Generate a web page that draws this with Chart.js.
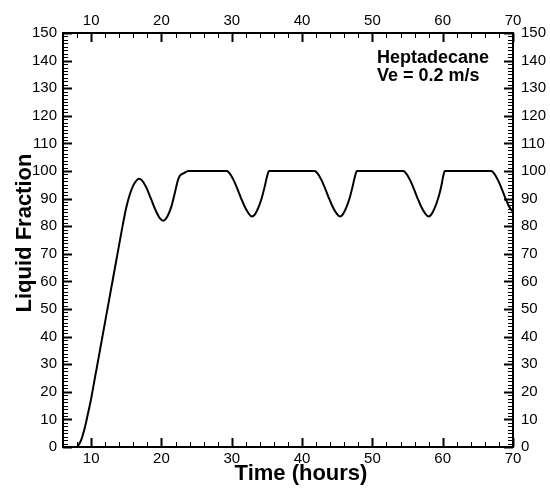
<!DOCTYPE html>
<html>
<head>
<meta charset="utf-8">
<script src="https://cdn.jsdelivr.net/npm/chart.js@4/dist/chart.umd.min.js"></script>
<style>
  body { margin: 0; background: #fff; }
  #wrap { width: 550px; height: 488px; }
</style>
</head>
<body>
<div id="wrap"><canvas id="lf_canvas" width="550" height="488"></canvas></div>
<script>
// values
const timeHours = [
  8.0, 8.5, 9.0, 9.5, 10.0, 10.5, 11.0, 11.5, 12.0, 12.5, 13.0, 13.5, 14.0, 14.5, 15.0, 15.5, 16.0, 16.5, 16.8,
  17.2, 17.8, 18.5, 19.2, 19.8, 20.3, 20.8, 21.4, 21.9, 22.3, 22.6, 23.2, 23.8,
  29.3, 29.8, 30.3, 30.8, 31.3, 31.8, 32.3, 32.85, 33.3, 33.8, 34.3, 34.7, 35.0, 35.3,
  41.8, 42.3, 42.8, 43.3, 43.8, 44.3, 44.8, 45.4, 45.8, 46.3, 46.8, 47.2, 47.5, 47.8,
  54.4, 54.9, 55.4, 55.9, 56.4, 56.9, 57.4, 58.0, 58.4, 58.9, 59.4, 59.8, 60.05, 60.3,
  66.9, 67.4, 67.9, 68.4, 68.9, 69.4, 70.0
];
const liquidFraction = [
  0, 2, 6, 11.5, 17.5, 24.5, 31.5, 38.5, 45.5, 52.5, 59.5, 66.5, 73.5, 80.5, 86.8, 91.5, 94.8, 96.7, 97.2,
  96.7, 94.3, 90, 85.6, 82.8, 82, 83.3, 87, 92, 96.3, 98.2, 99.2, 100,
  100, 98.8, 96.5, 93.5, 90.3, 87.3, 85, 83.5, 84.3, 86.8, 90.5, 94.5, 97.8, 100,
  100, 98.8, 96.5, 93.5, 90.3, 87.3, 85, 83.5, 84.3, 86.8, 90.5, 94.5, 97.8, 100,
  100, 98.8, 96.5, 93.5, 90.3, 87.3, 85, 83.5, 84.3, 86.8, 90.5, 94.5, 97.8, 100,
  100, 98.8, 96.5, 93.5, 90.3, 87.3, 85.2
];
const xTickLabels = [10, 20, 30, 40, 50, 60, 70];
const yTickLabels = [0, 10, 20, 30, 40, 50, 60, 70, 80, 90, 100, 110, 120, 130, 140, 150];
const noteLines = ["Heptadecane", "Ve = 0.2 m/s"];

const X_MIN = 6, X_MAX = 70, Y_MIN = 0, Y_MAX = 150;
const X_MINOR = 2, Y_MINOR = 1.25;
const tickFont = { family: "'Liberation Sans', Arial, sans-serif", size: 15 };

const points = timeHours.map((t, i) => ({ x: t, y: liquidFraction[i] }));

function setTicks(list) {
  return scale => { scale.ticks = list.map(v => ({ value: v })); };
}

// frame, inward ticks, axis titles and the note
const framePlugin = {
  id: "frame",
  afterDraw(chart) {
    const ctx = chart.ctx;
    const a = chart.chartArea;
    const xs = chart.scales.x, ys = chart.scales.y;
    ctx.save();
    ctx.strokeStyle = "#000";
    ctx.lineWidth = 2;
    ctx.strokeRect(a.left, a.top, a.right - a.left, a.bottom - a.top);

    for (let v = 8; v <= X_MAX; v += X_MINOR) {
      const px = Math.round(xs.getPixelForValue(v)) + 0.5;
      const major = v % 10 === 0;
      const len = major ? 9 : 5;
      ctx.lineWidth = major ? 2 : 1;
      ctx.beginPath();
      ctx.moveTo(px, a.bottom); ctx.lineTo(px, a.bottom - len);
      ctx.moveTo(px, a.top); ctx.lineTo(px, a.top + len);
      ctx.stroke();
    }
    for (let i = 0; i * Y_MINOR <= Y_MAX; i++) {
      const v = i * Y_MINOR;
      const py = Math.round(ys.getPixelForValue(v)) + 0.5;
      const major = i % 8 === 0;
      const len = major ? 9 : 5;
      ctx.lineWidth = major ? 2 : 1;
      ctx.beginPath();
      ctx.moveTo(a.left, py); ctx.lineTo(a.left + len, py);
      ctx.moveTo(a.right, py); ctx.lineTo(a.right - len, py);
      ctx.stroke();
    }

    ctx.fillStyle = "#000";
    ctx.font = "bold 22px 'Liberation Sans', Arial, sans-serif";
    ctx.textAlign = "center";
    ctx.textBaseline = "alphabetic";
    ctx.fillText("Time (hours)", 301, 480);

    ctx.save();
    ctx.translate(31, 233);
    ctx.rotate(-Math.PI / 2);
    ctx.fillText("Liquid Fraction", 0, 0);
    ctx.restore();

    ctx.font = "bold 18px 'Liberation Sans', Arial, sans-serif";
    ctx.textAlign = "left";
    ctx.fillText(noteLines[0], 377, 63);
    ctx.fillText(noteLines[1], 377, 81);
    ctx.restore();
  }
};

const axisBase = {
  type: "linear",
  grid: { display: false, drawTicks: false },
  border: { display: false },
  ticks: { color: "#000", font: tickFont }
};

new Chart(document.getElementById("lf_canvas"), {
  type: "line",
  data: {
    datasets: [{
      data: points,
      borderColor: "#000",
      borderWidth: 2,
      pointRadius: 0,
      cubicInterpolationMode: "monotone",
      fill: false
    }]
  },
  options: {
    responsive: false,
    animation: false,
    layout: { padding: 0 },
    plugins: { legend: { display: false }, tooltip: { enabled: false } },
    scales: {
      x: { ...axisBase, position: "bottom", min: X_MIN, max: X_MAX,
           ticks: { ...axisBase.ticks, padding: 3, maxRotation: 0 },
           afterBuildTicks: setTicks(xTickLabels),
           afterFit: s => { s.height = 41; } },
      x2: { ...axisBase, position: "top", min: X_MIN, max: X_MAX,
            ticks: { ...axisBase.ticks, padding: 3, maxRotation: 0 },
            afterBuildTicks: setTicks(xTickLabels),
            afterFit: s => { s.height = 33; } },
      y: { ...axisBase, position: "left", min: Y_MIN, max: Y_MAX,
           ticks: { ...axisBase.ticks, padding: 6 },
           afterBuildTicks: setTicks(yTickLabels),
           afterFit: s => { s.width = 63; } },
      y2: { ...axisBase, position: "right", min: Y_MIN, max: Y_MAX,
            ticks: { ...axisBase.ticks, padding: 8 },
            afterBuildTicks: setTicks(yTickLabels),
            afterFit: s => { s.width = 37; } }
    }
  },
  plugins: [framePlugin]
});
</script>
</body>
</html>
